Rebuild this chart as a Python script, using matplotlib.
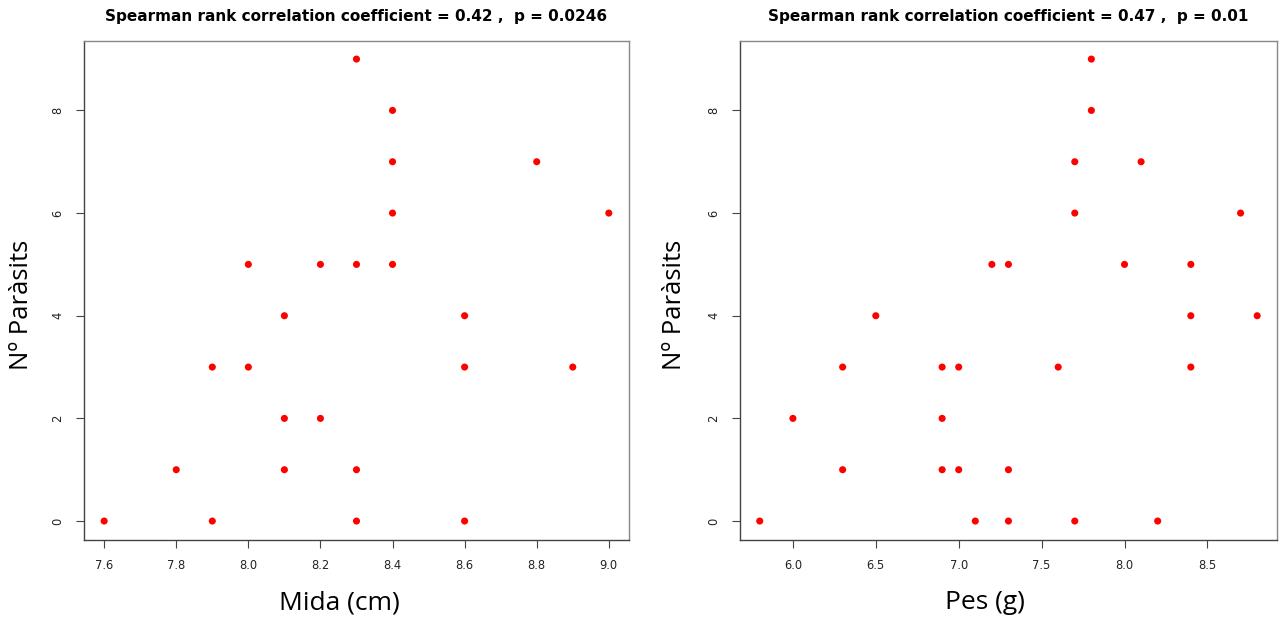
import numpy as np
import matplotlib
matplotlib.use("Agg")
import matplotlib.pyplot as plt

# mida (cm) vs parasits
mida_x = [7.6, 7.8, 7.9, 7.9, 8.0, 8.0, 8.1, 8.1, 8.1, 8.2, 8.2, 8.3, 8.3, 8.3, 8.3,
          8.4, 8.4, 8.4, 8.4, 8.6, 8.6, 8.6, 8.8, 8.9, 9.0]
mida_y = [0, 1, 3, 0, 5, 3, 4, 2, 1, 5, 2, 9, 5, 1, 0,
          8, 7, 6, 5, 4, 3, 0, 7, 3, 6]

# pes (g) vs parasits
pes_x = [5.8, 6.0, 6.3, 6.3, 6.5, 6.9, 6.9, 6.9, 7.0, 7.0, 7.1, 7.2, 7.3, 7.3, 7.3,
         7.6, 7.7, 7.7, 7.7, 7.8, 7.8, 8.0, 8.1, 8.2, 8.4, 8.4, 8.4, 8.7, 8.8]
pes_y = [0, 2, 3, 1, 4, 3, 2, 1, 3, 1, 0, 5, 5, 1, 0,
         3, 7, 6, 0, 9, 8, 5, 7, 0, 5, 4, 3, 6, 4]

titles = ["Spearman rank correlation coefficient = 0.42 ,  p = 0.0246",
          "Spearman rank correlation coefficient = 0.47 ,  p = 0.01"]
xlabels = ["Mida (cm)", "Pes (g)"]
ylabel = "Nº Paràsits"
xticks = [np.arange(7.6, 9.01, 0.2), np.arange(6.0, 8.51, 0.5)]
yticks = [0, 2, 4, 6, 8]

fig = plt.figure(figsize=(12.8, 6.19), dpi=100)
rects = [[0.0656, 0.1284, 0.4258, 0.806], [0.578, 0.1284, 0.4197, 0.806]]
xlab_pos = [(0.468, -0.127), (0.456, -0.127)]
ylab_pos = [(-0.114, 0.47), (-0.122, 0.47)]
label_font = ["Open Sans", "DejaVu Sans"]

for i, (xs, ys) in enumerate([(mida_x, mida_y), (pes_x, pes_y)]):
    ax = fig.add_axes(rects[i])
    ax.scatter(xs, ys, s=26, color="#ff0000", edgecolors="none", zorder=3)
    lo, hi = min(xs), max(xs)
    pad = 0.04 * (hi - lo)
    ax.set_xlim(lo - pad, hi + pad)
    ax.set_ylim(-0.36, 9.36)
    ax.set_xticks(xticks[i])
    ax.set_xticklabels(["%.1f" % v for v in xticks[i]])
    ax.set_yticks(yticks)
    ax.tick_params(axis="both", labelsize=8.3, length=6, width=0.8, color="#444444",
                   labelcolor="#222222", pad=8)
    for lab in ax.get_yticklabels():
        lab.set_rotation(90)
        lab.set_va("center")
    for side in ["left", "bottom"]:
        ax.spines[side].set_color("#444444")
        ax.spines[side].set_linewidth(1.0)
    for side in ["top", "right"]:
        ax.spines[side].set_color("#888888")
        ax.spines[side].set_linewidth(1.0)
    ax.set_title(titles[i], fontsize=11, fontweight="bold", pad=14)
    ax.set_xlabel(xlabels[i], fontsize=19, family=label_font, va="center")
    ax.set_ylabel(ylabel, fontsize=18.5, family=label_font, va="center")
    ax.xaxis.set_label_coords(*xlab_pos[i])
    ax.yaxis.set_label_coords(*ylab_pos[i])

fig.savefig("out.png", dpi=100)
